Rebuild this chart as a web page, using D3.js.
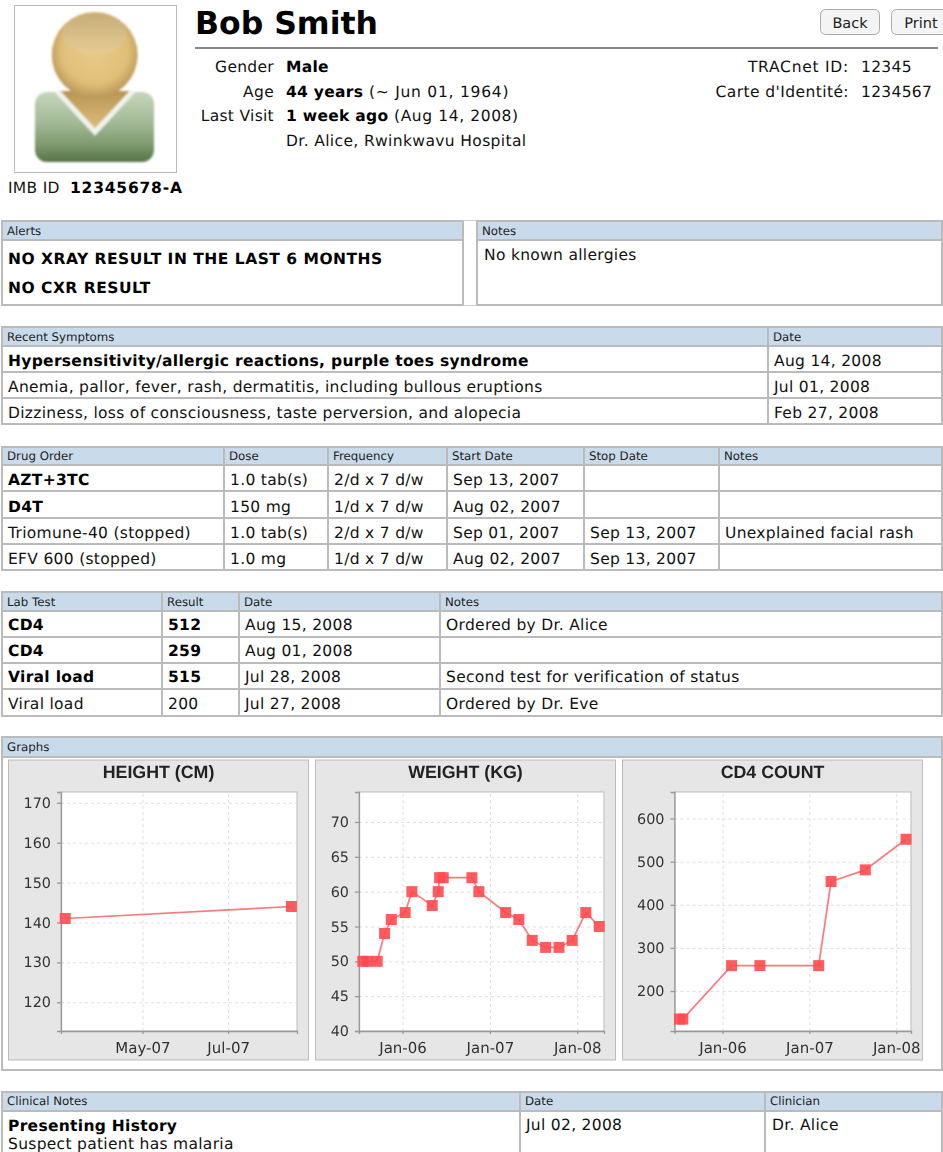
<!DOCTYPE html>
<meta charset="utf-8">
<style>
html, body { margin: 0; padding: 0; background: #fff; overflow: hidden; }
svg { display: block; }
text { font-family: "DejaVu Sans", sans-serif; fill: #111; text-rendering: geometricPrecision; }
.cell { font-size: 15.5px; letter-spacing: 0.3px; }
.head { font-size: 11.8px; fill: #222; }
.bold { font-weight: bold; fill: #000; }
.axis text { font-family: "DejaVu Sans", sans-serif; font-size: 14.4px; fill: #333; }
.axis.xaxis text { font-size: 15px; }
.axis path, .axis line { stroke: #999; stroke-width: 1.3; }
.grid line { stroke: #ddd; stroke-dasharray: 3 3; }
.grid path { stroke: none; }
.chart-title { font-family: "Liberation Sans", sans-serif; font-weight: bold; font-size: 17.8px; fill: #222; text-anchor: middle; }
</style>
<svg id="page" width="943" height="1152"></svg>
<script src="https://d3js.org/d3.v7.min.js"></script>
<script>

// ---- data ----
var alertLines = ["NO XRAY RESULT IN THE LAST 6 MONTHS", "NO CXR RESULT"];

var symptomHeaders = ["Recent Symptoms", "Date"];
var symptomRows = [
    ["Hypersensitivity/allergic reactions, purple toes syndrome", "Aug 14, 2008"],
    ["Anemia, pallor, fever, rash, dermatitis, including bullous eruptions", "Jul 01, 2008"],
    ["Dizziness, loss of consciousness, taste perversion, and alopecia", "Feb 27, 2008"]
];

var drugHeaders = ["Drug Order", "Dose", "Frequency", "Start Date", "Stop Date", "Notes"];
var drugRows = [
    ["AZT+3TC", "1.0 tab(s)", "2/d x 7 d/w", "Sep 13, 2007", "", ""],
    ["D4T", "150 mg", "1/d x 7 d/w", "Aug 02, 2007", "", ""],
    ["Triomune-40 (stopped)", "1.0 tab(s)", "2/d x 7 d/w", "Sep 01, 2007", "Sep 13, 2007", "Unexplained facial rash"],
    ["EFV 600 (stopped)", "1.0 mg", "1/d x 7 d/w", "Aug 02, 2007", "Sep 13, 2007", ""]
];

var labHeaders = ["Lab Test", "Result", "Date", "Notes"];
var labRows = [
    ["CD4", "512", "Aug 15, 2008", "Ordered by Dr. Alice"],
    ["CD4", "259", "Aug 01, 2008", ""],
    ["Viral load", "515", "Jul 28, 2008", "Second test for verification of status"],
    ["Viral load", "200", "Jul 27, 2008", "Ordered by Dr. Eve"]
];

var heightDates = ["2007-03-07", "2007-08-15"];
var heightValues = [141, 144];
var heightYTicks = [120, 130, 140, 150, 160, 170];
var heightXTicks = ["2007-05-01", "2007-07-01"];

var weightDates = ["2005-07-19", "2005-08-06", "2005-09-17", "2005-10-18", "2005-11-15", "2006-01-12",
    "2006-02-09", "2006-05-05", "2006-05-30", "2006-06-05", "2006-06-20", "2006-10-18", "2006-11-16",
    "2007-03-08", "2007-05-02", "2007-06-27", "2007-08-22", "2007-10-17", "2007-12-11", "2008-02-06", "2008-04-02"];
var weightValues = [50, 50, 50, 54, 56, 57, 60, 58, 60, 62, 62, 62, 60, 57, 56, 53, 52, 52, 53, 57, 55];
var weightYTicks = [40, 45, 50, 55, 60, 65, 70];
var yearTicks = ["2006-01-01", "2007-01-01", "2008-01-01"];

var cd4Dates = ["2005-07-04", "2005-07-18", "2006-02-08", "2006-06-07", "2007-02-09", "2007-04-02", "2007-08-24", "2008-02-11"];
var cd4Values = [135, 135, 259, 259, 259, 454, 481, 552];
var cd4YTicks = [200, 300, 400, 500, 600];

var parseDate = d3.timeParse("%Y-%m-%d");
var svg = d3.select("#page");
var defs = svg.append("defs");

// reference graphs are upscaled bitmaps, so soften them a bit
defs.append("filter").attr("id", "soft")
    .append("feGaussianBlur").attr("stdDeviation", 0.45);
defs.append("filter").attr("id", "softer")
    .append("feGaussianBlur").attr("stdDeviation", 0.9);

function gradient(id, stops, radial) {
    var g = radial
        ? defs.append("radialGradient").attr("id", id).attr("cx", "50%").attr("cy", "45%").attr("r", "55%")
        : defs.append("linearGradient").attr("id", id).attr("x1", 0).attr("y1", 0).attr("x2", 0).attr("y2", 1);
    stops.forEach(function(s) {
        g.append("stop").attr("offset", s[0]).attr("stop-color", s[1]);
    });
}
gradient("headFill", [["0%", "#e8cb88"], ["70%", "#e0bf78"], ["100%", "#b9985a"]], true);
gradient("headShine", [["0%", "#c7ad78"], ["100%", "#e6cc94"]]);
gradient("bodyFill", [["0%", "#c6d6bb"], ["45%", "#a2b895"], ["75%", "#7d9a6c"], ["100%", "#55744a"]]);
gradient("neckFill", [["0%", "#b89552"], ["100%", "#e0c184"]]);

function put(x, y, text, cls, anchor) {
    return svg.append("text")
        .attr("x", x)
        .attr("y", y)
        .attr("class", cls)
        .attr("text-anchor", anchor || "start")
        .text(text);
}

// ---- patient header ----
svg.append("rect").attr("x", 14.5).attr("y", 5.5).attr("width", 162).attr("height", 167)
    .attr("fill", "#fff").attr("stroke", "#bbb");

var avatar = svg.append("g").attr("filter", "url(#softer)");
avatar.append("rect").attr("x", 35).attr("y", 92).attr("width", 119).attr("height", 70).attr("rx", 12)
    .attr("fill", "url(#bodyFill)");
avatar.append("path").attr("d", "M57,91 L95,132 L133,91 Z").attr("fill", "url(#neckFill)");
avatar.append("path").attr("d", "M57,91 L95,132 L133,91").attr("fill", "none")
    .attr("stroke", "#f1f3ec").attr("stroke-width", 5);
avatar.append("circle").attr("cx", 94.7).attr("cy", 55).attr("r", 43).attr("fill", "url(#headFill)");
avatar.append("ellipse").attr("cx", 94.7).attr("cy", 34).attr("rx", 32).attr("ry", 20).attr("fill", "url(#headShine)");

put(8, 193, "IMB ID", "cell");
put(70, 193, "12345678-A", "cell bold").style("letter-spacing", "0.8px");

put(195, 34, "Bob Smith", "bold").style("font-size", "31.5px");
svg.append("line").attr("x1", 195).attr("x2", 938).attr("y1", 48).attr("y2", 48)
    .attr("stroke", "#888").attr("stroke-width", 2);

[[820, 59, "Back"], [891, 59, "Print"]].forEach(function(b) {
    svg.append("rect").attr("x", b[0] + 0.5).attr("y", 9.5).attr("width", b[1]).attr("height", 25).attr("rx", 5)
        .attr("fill", "#f4f4f4").attr("stroke", "#aaa");
    put(b[0] + b[1] / 2 + 0.5, 28, b[2], "cell", "middle")
        .style("font-size", "14.5px").style("letter-spacing", "0").style("fill", "#222");
});

var infoLabels = ["Gender", "Age", "Last Visit"];
infoLabels.forEach(function(t, i) {
    put(274, [72, 97, 121][i], t, "cell", "end");
});
put(286, 72, "Male", "cell bold");
put(286, 97, "44 years", "cell bold");
put(369, 97, "(~ Jun 01, 1964)", "cell").style("letter-spacing", "0.75px");
put(286, 121, "1 week ago", "cell bold");
put(394, 121, "(Aug 14, 2008)", "cell").style("letter-spacing", "0.6px");
put(286, 146, "Dr. Alice, Rwinkwavu Hospital", "cell").style("letter-spacing", "0.37px");

put(849, 72, "TRACnet ID:", "cell", "end").style("letter-spacing", "0.75px");
put(861, 72, "12345", "cell");
put(849, 97, "Carte d'Identité:", "cell", "end").style("letter-spacing", "0.42px");
put(861, 97, "1234567", "cell");

// ---- table frames ----
function frame(left, right, top, headLine, bottom, cols) {
    svg.append("rect").attr("x", left).attr("y", top).attr("width", right - left).attr("height", headLine - top)
        .attr("fill", "#c9dbeb");
    var g = svg.append("g").attr("stroke", "#bbb").attr("stroke-width", 2).attr("fill", "none");
    [top, headLine, bottom].forEach(function(y) {
        if (y === null) return;
        g.append("line").attr("x1", left).attr("x2", right).attr("y1", y).attr("y2", y);
    });
    var end = bottom === null ? 1152 : bottom;
    [left, right].concat(cols).forEach(function(x) {
        g.append("line").attr("x1", x).attr("x2", x).attr("y1", top - 1).attr("y2", end + 1);
    });
    return g;
}

function table(top, headLine, rowLines, cols, headers, rows, isBold, textLift) {
    var g = frame(2, 942, top, headLine, rowLines[rowLines.length - 1], cols);
    rowLines.slice(0, -1).forEach(function(y) {
        g.append("line").attr("x1", 2).attr("x2", 942).attr("y1", y).attr("y2", y);
    });
    var starts = [2].concat(cols);
    headers.forEach(function(h, c) {
        put(starts[c] + 5, headLine - 5.5, h, "head");
    });
    rows.forEach(function(row, r) {
        row.forEach(function(v, c) {
            put(starts[c] + 6, rowLines[r] - textLift, v, isBold(r, c) ? "cell bold" : "cell");
        });
    });
}

// alerts and notes
frame(2, 463, 221, 240, 305, []);
frame(477, 942, 221, 240, 305, []);
svg.append("g").attr("stroke", "#ccc").selectAll("line").data([220.5, 305.5]).enter().append("line")
    .attr("x1", 463).attr("x2", 477).attr("y1", function(d) { return d; }).attr("y2", function(d) { return d; });
put(7, 234.5, "Alerts", "head");
put(482, 234.5, "Notes", "head");
alertLines.forEach(function(t, i) {
    put(8, [264, 293][i], t, "cell bold").style("letter-spacing", "0.5px");
});
put(484, 260, "No known allergies", "cell");

table(327, 346, [372, 398, 424], [768], symptomHeaders, symptomRows,
    function(r, c) { return r === 0 && c === 0; }, 6);
table(447, 465, [491, 518, 544, 570], [224, 328, 447, 584, 719], drugHeaders, drugRows,
    function(r, c) { return r < 2 && c === 0; }, 6.5);
table(592, 611, [637, 663, 689, 716], [162, 239, 440], labHeaders, labRows,
    function(r, c) { return r < 3 && c < 2; }, 7);

// ---- graphs ----
frame(2, 942, 737, 757, 1070, []);
put(7, 751, "Graphs", "head");

function drawChart(opt) {
    var g = svg.append("g").attr("filter", "url(#soft)");
    var w = opt.x1 - opt.x0, h = 1031 - 792;

    g.append("rect").attr("x", opt.panel).attr("y", 760).attr("width", 300).attr("height", 300)
        .attr("fill", "#e6e6e6").attr("stroke", "#bbb");
    g.append("text").attr("class", "chart-title").attr("x", opt.panel + 150).attr("y", 778).text(opt.title);

    var x = d3.scaleTime().domain(opt.xDomain.map(parseDate)).range([opt.x0, opt.x1]);
    var y = d3.scaleLinear().domain(opt.yDomain).range([1031, 792]);
    var xTicks = opt.xTicks.map(parseDate);

    g.append("rect").attr("x", opt.x0).attr("y", 792).attr("width", w).attr("height", h)
        .attr("fill", "#fff").attr("stroke", "#bbb");

    g.append("g").attr("class", "grid").attr("transform", "translate(0,1031)")
        .call(d3.axisBottom(x).tickValues(xTicks).tickSize(-h).tickFormat(""));
    g.append("g").attr("class", "grid").attr("transform", "translate(" + opt.x0 + ",0)")
        .call(d3.axisLeft(y).tickValues(opt.yTicks).tickSize(-w).tickFormat(""));

    g.append("g").attr("class", "axis xaxis").attr("transform", "translate(0,1031)")
        .call(d3.axisBottom(x).tickValues(xTicks).tickSizeOuter(0).tickSize(3).tickPadding(8)
            .tickFormat(d3.timeFormat("%b-%y")));
    g.append("g").attr("class", "axis").attr("transform", "translate(" + opt.x0 + ",0)")
        .call(d3.axisLeft(y).tickValues(opt.yTicks).tickSizeOuter(0).tickSize(4).tickPadding(6));

    var pts = opt.dates.map(function(d, i) { return {date: parseDate(d), value: opt.values[i]}; });
    var line = d3.line()
        .x(function(d) { return x(d.date); })
        .y(function(d) { return y(d.value); });

    g.append("path").datum(pts).attr("d", line).attr("fill", "none")
        .attr("stroke", "#ff787e").attr("stroke-width", 1.7);
    g.selectAll("rect.pt").data(pts).enter().append("rect")
        .attr("class", "pt")
        .attr("x", function(d) { return x(d.date) - 5.5; })
        .attr("y", function(d) { return y(d.value) - 5.5; })
        .attr("width", 11)
        .attr("height", 11)
        .attr("fill", "#ff4a50")
        .attr("fill-opacity", 0.9);
}

drawChart({
    title: "HEIGHT (CM)", panel: 8.5, x0: 61, x1: 297,
    xDomain: ["2007-03-04", "2007-08-19"], yDomain: [112.8, 172.7],
    xTicks: heightXTicks, yTicks: heightYTicks, dates: heightDates, values: heightValues
});
drawChart({
    title: "WEIGHT (KG)", panel: 315.5, x0: 359, x1: 604,
    xDomain: ["2005-07-03", "2008-04-22"], yDomain: [40, 74.3],
    xTicks: yearTicks, yTicks: weightYTicks, dates: weightDates, values: weightValues
});
drawChart({
    title: "CD4 COUNT", panel: 622.5, x0: 674.5, x1: 911,
    xDomain: ["2005-06-13", "2008-03-03"], yDomain: [107.4, 661.6],
    xTicks: yearTicks, yTicks: cd4YTicks, dates: cd4Dates, values: cd4Values
});

// ---- clinical notes ----
frame(2, 942, 1092, 1111, null, [520, 765]);
put(7, 1105, "Clinical Notes", "head");
put(525, 1105, "Date", "head");
put(770, 1105, "Clinician", "head");
put(8, 1131, "Presenting History", "cell bold");
put(8, 1149, "Suspect patient has malaria", "cell");
put(526, 1130, "Jul 02, 2008", "cell");
put(772, 1130, "Dr. Alice", "cell");

</script>
